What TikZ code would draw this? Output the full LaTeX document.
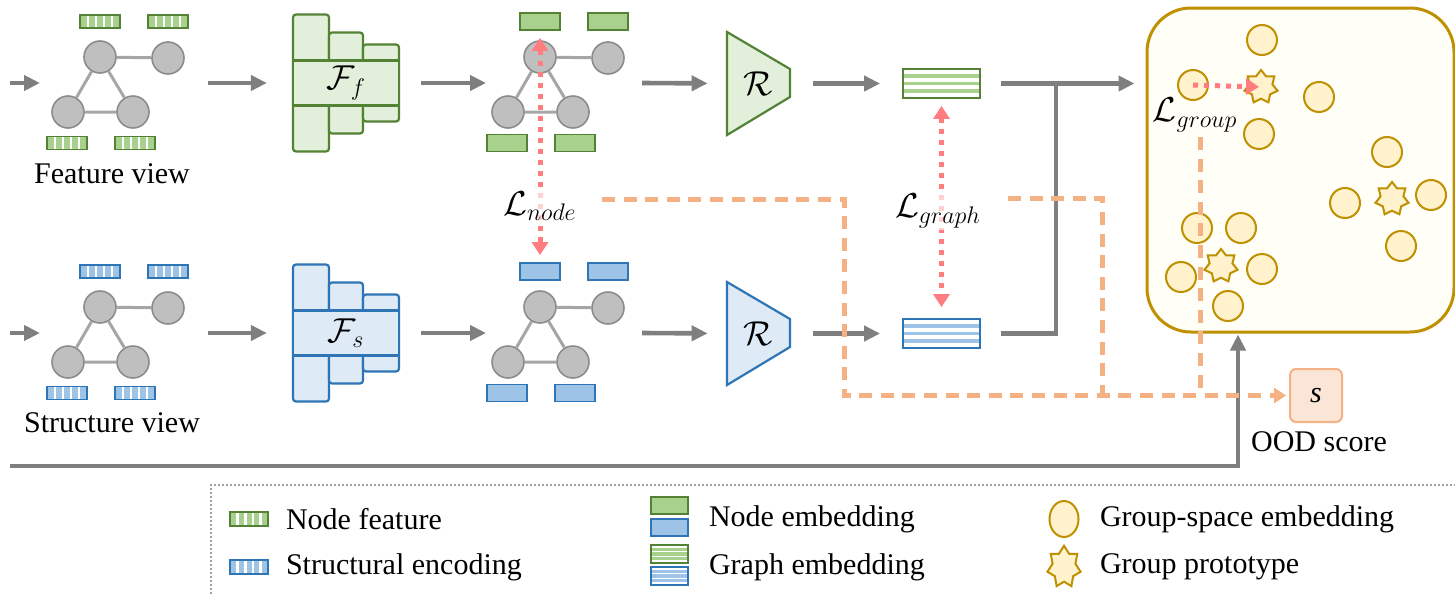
\documentclass[tikz,border=0pt]{standalone}
\usepackage{fontspec}
\setmainfont{Liberation Serif}
\usetikzlibrary{arrows.meta,shapes.geometric,calc}
\definecolor{gstroke}{HTML}{548235}
\definecolor{gfill}{HTML}{E2EFDA}
\definecolor{gemb}{HTML}{A9D18E}
\definecolor{bstroke}{HTML}{2E75B6}
\definecolor{bfill}{HTML}{DEEBF7}
\definecolor{bemb}{HTML}{9DC3E6}
\definecolor{arrowgray}{HTML}{7F7F7F}
\definecolor{nodegray}{HTML}{BFBFBF}
\definecolor{nodestroke}{HTML}{8C8C8C}
\definecolor{edgegray}{HTML}{A6A6A6}
\definecolor{lossred}{HTML}{FF7C80}
\definecolor{orangeline}{HTML}{F4B183}
\definecolor{goldline}{HTML}{BF9000}
\definecolor{goldfill}{HTML}{FFF2CC}
\definecolor{spacefill}{HTML}{FFFEF7}
\definecolor{sfill}{HTML}{FBE5D6}
\definecolor{legline}{HTML}{A0A0A0}

\tikzset{
  rtip/.tip={Triangle[length=6.5pt,width=8pt]},
  gnode/.style={circle, draw=nodestroke, fill=nodegray, line width=0.8pt, minimum size=16pt, inner sep=0pt},
  gedge/.style={draw=edgegray, line width=1.5pt},
  vstripes/.style={path picture={\foreach \k in {1,2,3,4}{\draw[white, line width=1.3pt] ($(path picture bounding box.south west)!\k/5!(path picture bounding box.south east)$) -- ($(path picture bounding box.north west)!\k/5!(path picture bounding box.north east)$);}}},
  hstripes/.style={path picture={\foreach \k in {1,2,3}{\draw[#1, line width=1.9pt] ($(path picture bounding box.north west)!\k/4!(path picture bounding box.south west)$) -- ($(path picture bounding box.north east)!\k/4!(path picture bounding box.south east)$);}}},
  featbar/.style={rectangle, draw=gstroke, fill=gemb, line width=0.9pt, minimum width=20pt, minimum height=6.5pt, inner sep=0pt, vstripes},
  structbar/.style={rectangle, draw=bstroke, fill=bemb, line width=0.9pt, minimum width=20pt, minimum height=6.5pt, inner sep=0pt, vstripes},
  nembg/.style={rectangle, draw=gstroke, fill=gemb, line width=0.9pt, minimum width=20pt, minimum height=8.5pt, inner sep=0pt},
  nembb/.style={rectangle, draw=bstroke, fill=bemb, line width=0.9pt, minimum width=20pt, minimum height=8.5pt, inner sep=0pt},
  gembg/.style={rectangle, draw=gstroke, fill=white, line width=0.9pt, minimum width=38.5pt, minimum height=14.5pt, inner sep=0pt, hstripes=gemb},
  gembb/.style={rectangle, draw=bstroke, fill=white, line width=0.9pt, minimum width=38.5pt, minimum height=14.5pt, inner sep=0pt, hstripes=bemb},
  fblk/.style={rectangle, rounded corners=1.5pt, line width=1.1pt, inner sep=0pt},
  arr/.style={draw=arrowgray, line width=2.3pt, -{Triangle[length=8pt,width=7.5pt]}},
  gline/.style={draw=arrowgray, line width=2.3pt},
  rdot/.style={draw=lossred, line width=2.5pt, dash pattern=on 2.5pt off 3pt},
  odash/.style={draw=orangeline, line width=2.5pt, dash pattern=on 6.5pt off 4.3pt},
  gcirc/.style={circle, draw=goldline, fill=goldfill, line width=1pt, minimum size=15pt, inner sep=0pt},
  gstar/.style={star, star points=7, star point ratio=1.45, draw=goldline, fill=goldfill, line width=1pt, minimum size=17pt, inner sep=0pt},
  lossl/.style={fill=white, fill opacity=0.65, text opacity=1, inner sep=1pt, font=\fontsize{16.5}{19}\selectfont},
  mathl/.style={font=\fontsize{16.5}{19}\selectfont},
  spacebox/.style={rectangle, rounded corners=22pt, draw=goldline, fill=spacefill, line width=1.5pt, minimum width=153.5pt, minimum height=162pt},
  sbox/.style={rectangle, rounded corners=3pt, draw=orangeline, fill=sfill, line width=1pt, minimum width=26pt, minimum height=26.5pt, inner sep=0pt},
  legl/.style={draw=legline, line width=0.6pt, dash pattern=on 1pt off 1pt},
}

\newcommand{\graphview}[4]{%
\begin{scope}[shift={(#2,#3)}]
\node[#4] (#1t1) at (100,21.5) {};
\node[#4] (#1t2) at (168,21.5) {};
\node[#4] (#1u1) at (67,143) {};
\node[#4] (#1u2) at (135,143) {};
\node[gnode] (#1n1) at (100,57) {};
\node[gnode] (#1n2) at (168,58) {};
\node[gnode] (#1n3) at (68,112) {};
\node[gnode] (#1n4) at (133,112) {};
\draw[gedge] (#1n1) -- (#1n2) (#1n1) -- (#1n3) (#1n1) -- (#1n4) (#1n3) -- (#1n4);
\end{scope}}

\newcommand{\fblock}[5]{%
\node[fblk, draw=#3, fill=#4, minimum width=18pt, minimum height=68.5pt] (#1p1) at (311,#2) {};
\node[fblk, draw=#3, fill=#4, minimum width=17pt, minimum height=50.5pt] (#1p2) at (346,#2) {};
\node[fblk, draw=#3, fill=#4, minimum width=18pt, minimum height=38.5pt] (#1p3) at (381,#2) {};
\node[fblk, sharp corners, draw=#3, fill=#4, minimum width=53pt, minimum height=22.5pt, mathl] (#1b) at (346,#2) {#5};}

\begin{document}
\begin{tikzpicture}[x=0.5pt,y=-0.5pt, font=\fontsize{15}{18}\selectfont]
\useasboundingbox (0,0) rectangle (1455,595);
\fill[white] (0,0) rectangle (1455,595);

% graph views
\graphview{fa}{0}{0}{featbar}
\graphview{sa}{0}{250}{structbar}
\graphview{fe}{440}{0}{nembg}
\graphview{se}{440}{250}{nembb}
\node (fview) at (112,174) {Feature view};
\node (sview) at (112,423) {Structure view};

% encoders
\fblock{ff}{83}{gstroke}{gfill}{$\mathcal{F}_f$}
\fblock{fs}{333}{bstroke}{bfill}{$\mathcal{F}_s$}

% readouts
\draw[draw=gstroke, fill=gfill, line width=1.1pt] (727,32) -- (790,69) -- (790,97) -- (727,135) -- cycle;
\draw[draw=bstroke, fill=bfill, line width=1.1pt] (727,282) -- (790,319) -- (790,347) -- (727,385) -- cycle;
\node[minimum width=31.5pt, minimum height=51.5pt, inner sep=0pt, mathl] (rf) at (758.5,83.5) {$\mathcal{R}$};
\node[minimum width=31.5pt, minimum height=51.5pt, inner sep=0pt, mathl] (rs) at (758.5,333.5) {$\mathcal{R}$};

% graph embeddings
\node[gembg] (gf) at (941.5,83.5) {};
\node[gembb] (gs) at (941.5,333.5) {};

% group space
\node[spacebox] (space) at (1300.5,170) {};
\node[gcirc] (gc1) at (1262,40) {};
\node[gcirc] (gc2) at (1193,85) {};
\node[gstar] (gs1) at (1261,87) {};
\node[gcirc] (gc3) at (1319,97) {};
\node[gcirc] (gc4) at (1259,134) {};
\node[gcirc] (gc5) at (1387,152) {};
\node[gcirc] (gc6) at (1345,203) {};
\node[gstar] (gs2) at (1392,199) {};
\node[gcirc] (gc7) at (1431,195) {};
\node[gcirc] (gc8) at (1401,246) {};
\node[gcirc] (gc9) at (1197,228) {};
\node[gcirc] (gc10) at (1241,228) {};
\node[gstar] (gs3) at (1221,266) {};
\node[gcirc] (gc11) at (1181,277) {};
\node[gcirc] (gc12) at (1262,269) {};
\node[gcirc] (gc13) at (1228,306) {};
\node[inner sep=1pt, mathl] (lgroup) at (1195,115) {$\mathcal{L}_{group}$};
\draw[rdot, -rtip, shorten >=1pt] (gc2.center) -- (gs1.center);

% gray arrows, two rows
\foreach \r/\yy in {f/83, s/333} {
  \coordinate (\r-in0) at (10,\yy);
  \coordinate (\r-in1) at (40,\yy);
  \coordinate (\r-g0) at (208,\yy);
  \coordinate (\r-e1) at (486,\yy);
  \coordinate (\r-e0) at (642,\yy);
}
\draw[arr] (f-in0) -- (f-in1);
\draw[arr] (s-in0) -- (s-in1);
\draw[arr, shorten >=12.5pt] (f-g0) -- (ffb.west);
\draw[arr, shorten >=12.5pt] (s-g0) -- (fsb.west);
\draw[arr, shorten <=10.5pt] (ffb.east) -- (f-e1);
\draw[arr, shorten <=10.5pt] (fsb.east) -- (s-e1);
\draw[arr, shorten >=9.5pt] (f-e0) -- (rf.west);
\draw[arr, shorten >=9.5pt] (s-e0) -- (rs.west);
\draw[arr, shorten <=11.5pt, shorten >=11pt] (rf.east) -- (gf.west);
\draw[arr, shorten <=11.5pt, shorten >=11pt] (rs.east) -- (gs.west);

% merge into group space
\coordinate (mj) at (1056,83.5);
\draw[arr, shorten <=10pt, shorten >=5.5pt] (gf.east) -- (gf.east -| space.west);
\draw[gline, shorten <=10pt] (gs.east) -| (mj);

% raw input to group space
\coordinate (bin) at (10,466);
\coordinate (upx) at (1238,466);
\draw[arr, shorten >=0.5pt] (bin) -| (upx |- space.south);

% contrastive losses
\draw[rdot, rtip-rtip, shorten <=3.5pt, shorten >=3.5pt] (fet1.south) -- (set1.north);
\node[lossl] (lnode) at (540,206) {$\mathcal{L}_{node}$};
\draw[rdot, rtip-rtip, shorten <=3.5pt, shorten >=5.5pt] (gf.south) -- (gs.north);
\node[lossl] (lgraph) at (938,211) {$\mathcal{L}_{graph}$};

% OOD score
\node[sbox] (s) at (1316,395.5) {\textit{s}};
\node (ood) at (1319,442) {OOD score};

% orange dashed score paths
\coordinate (o1) at (602,199);
\coordinate (o2) at (1008,198);
\coordinate (o3) at (1200,137);
\draw[odash] (o2) -- (1102,198) -- (1102,395.5);
\draw[odash] (o3) -- (1200,395.5);
\draw[odash, -{Triangle[length=6pt,width=7.5pt]}, shorten >=1.5pt] (o1) -- (844,199) -- (844,395.5) -- (s.west);

% legend
\draw[legl] (1460,485) -- (211,485) -- (211,600);
\node[featbar, minimum width=19pt, minimum height=7pt] (lg1) at (249,519) {};
\node[anchor=west] (lg1t) at (279,519) {Node feature};
\node[structbar, minimum width=19pt, minimum height=7pt] (lg2) at (249,567) {};
\node[anchor=west] (lg2t) at (279,567) {Structural encoding};
\node[nembg, minimum width=18.5pt, minimum height=8.5pt] (lg3a) at (669.5,505.5) {};
\node[nembb, minimum width=18.5pt, minimum height=8.5pt] (lg3b) at (669.5,527.5) {};
\node[anchor=west] (lg3t) at (702,519) {Node embedding};
\node[gembg, minimum width=18.5pt, minimum height=9pt] (lg4a) at (669.5,554) {};
\node[gembb, minimum width=18.5pt, minimum height=9pt] (lg4b) at (669.5,576) {};
\node[anchor=west] (lg4t) at (702,567) {Graph embedding};
\node[gcirc, ellipse, minimum width=14.5pt, minimum height=18pt] (lg5) at (1064,519) {};
\node[anchor=west] (lg5t) at (1093,519) {Group-space embedding};
\begin{scope}[shift={(1064,567)}, yscale=1.25]
\node[gstar, transform shape] (lg6) at (0,0) {};
\end{scope}
\node[anchor=west] (lg6t) at (1093,567) {Group prototype};
\end{tikzpicture}
\end{document}
